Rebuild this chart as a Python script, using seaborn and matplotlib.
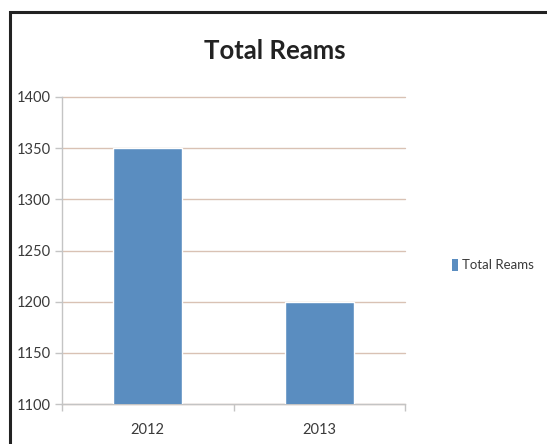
import matplotlib
matplotlib.use("Agg")
import matplotlib.pyplot as plt
import seaborn as sns
import pandas as pd
from matplotlib.patches import Rectangle, Patch

categories = ["2012", "2013"]
values = [1350, 1200]
series_name = "Total Reams"
yticks = [1100, 1150, 1200, 1250, 1300, 1350, 1400]

sns.set_theme(style="white")
plt.rcParams['font.family'] = ['Lato', 'DejaVu Sans']

df = pd.DataFrame({"Year": categories, series_name: values})

fig = plt.figure(figsize=(5.47, 4.44), dpi=100)
ax = fig.add_axes([62/547, 1-404/444, (405-62)/547, (404-97)/444])

bar_color = "#5A8DC0"
sns.barplot(data=df, x="Year", y=series_name, color=bar_color, width=0.40,
            saturation=1, ax=ax, zorder=3)

ax.set_ylim(1100, 1400)
ax.set_yticks(yticks)
ax.set_xlim(-0.5, 1.5)
ax.yaxis.grid(True, color="#D9C2B4", linewidth=1.0, zorder=0)
for gl in ax.yaxis.get_gridlines():
    gl.set_clip_on(False)
ax.set_axisbelow(True)
ax.set_xlabel("")
ax.set_ylabel("")

for s in ["top", "right"]:
    ax.spines[s].set_visible(False)
for s in ["left", "bottom"]:
    ax.spines[s].set_color("#C4C4C4")
    ax.spines[s].set_linewidth(1.0)

ax.tick_params(axis="y", which="both", left=True, length=5, width=1, color="#C4C4C4",
               labelsize=10.5, labelcolor="#3A3A3A", pad=3)
ax.set_xticks([0, 1])
ax.set_xticklabels(categories)
ax.set_xticks([-0.5, 0.5, 1.5], minor=True)
ax.tick_params(axis="x", which="minor", bottom=True, length=5, width=1, color="#C4C4C4")
ax.tick_params(axis="x", which="major", bottom=False, labelsize=10.5, labelcolor="#3A3A3A", pad=8)

fig.text(275/547, 1-51/444, "Total Reams", ha="center", va="center",
         fontsize=18.5, fontweight="bold", color="#222222")

handles = [Patch(facecolor=bar_color, edgecolor="none", label=series_name)]
fig.legend(handles=handles, loc="center left", bbox_to_anchor=(440/547, 1-265/444),
           frameon=False, fontsize=9.5, handlelength=0.5, handleheight=1.0,
           handletextpad=0.25, labelcolor="#3A3A3A")

fig.add_artist(Rectangle((10/547, -0.1), 1.2, 1 - 12/444 + 0.1,
                         transform=fig.transFigure, fill=False,
                         edgecolor="#222222", linewidth=2.2))

fig.savefig("out.png", dpi=100, facecolor="white")
